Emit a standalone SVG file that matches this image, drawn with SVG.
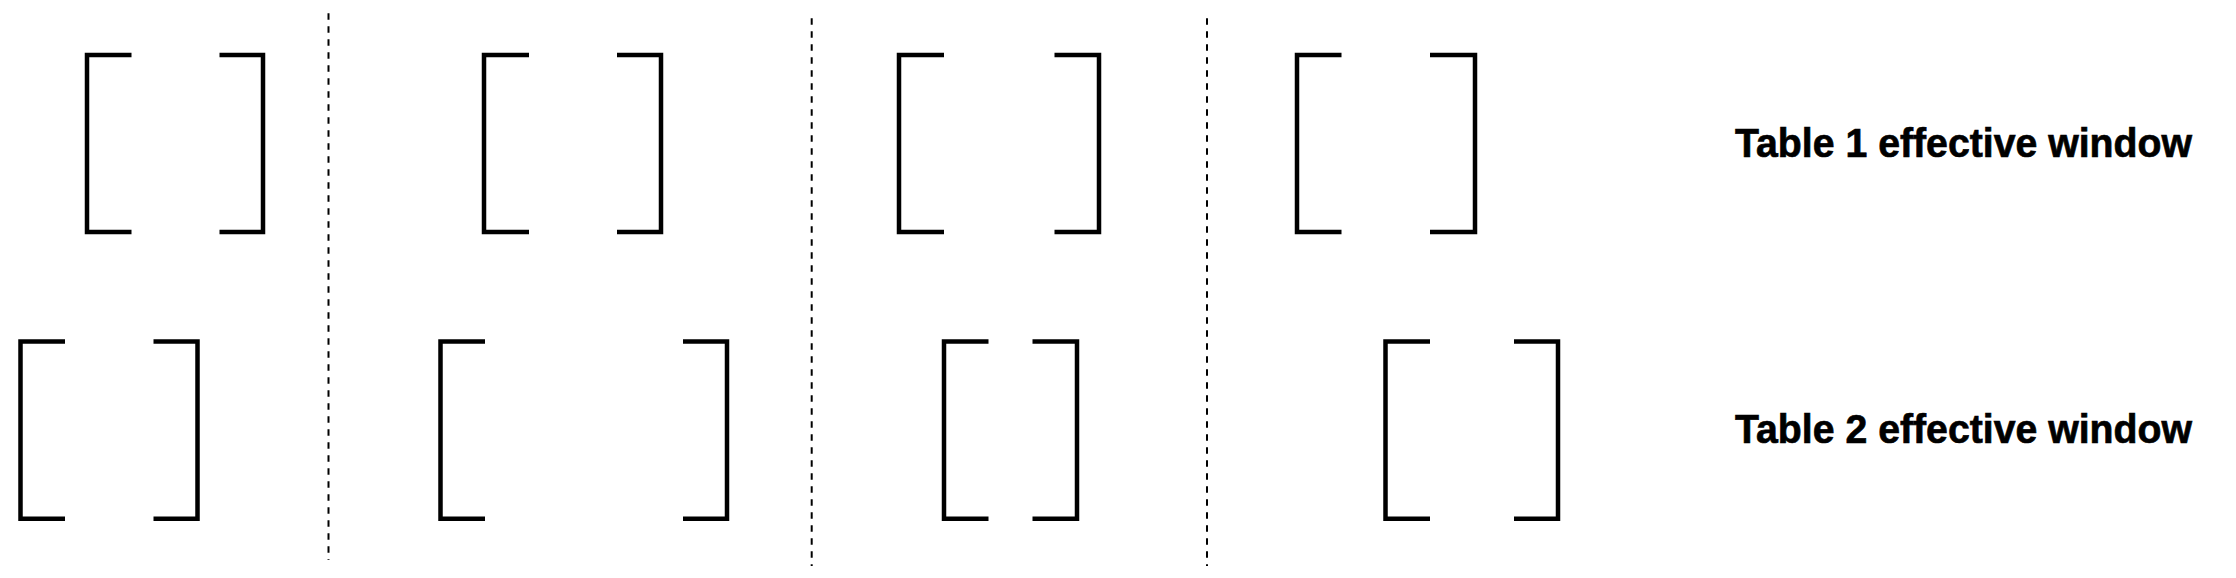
<svg xmlns="http://www.w3.org/2000/svg" width="2236" height="578" viewBox="0 0 2236 578">
<style>
.br{fill:none;stroke:#000;stroke-width:4.5;stroke-linecap:butt;stroke-linejoin:miter}
.dv{fill:none;stroke:#000;stroke-width:2;stroke-dasharray:6.5 6.5}
.lbl{font-family:"Liberation Sans",Arial,Helvetica,sans-serif;font-weight:bold;font-size:41.5px;fill:#000;stroke:#000;stroke-width:0.7}
</style>
<rect width="2236" height="578" fill="#fff"/>
<g id="dividers">
<line class="dv" x1="328.5" y1="13.3" x2="328.5" y2="560"/>
<line class="dv" x1="811.7" y1="18.3" x2="811.7" y2="566"/>
<line class="dv" x1="1207" y1="18.3" x2="1207" y2="566"/>
</g>
<g id="t1w1"><path class="br" d="M131.5,55 H87 V232 H131.5"/><path class="br" d="M219.5,55 H263 V232 H219.5"/></g>
<g id="t1w2"><path class="br" d="M529,55 H484 V232 H529"/><path class="br" d="M617,55 H661 V232 H617"/></g>
<g id="t1w3"><path class="br" d="M944,55 H899 V232 H944"/><path class="br" d="M1054.5,55 H1099 V232 H1054.5"/></g>
<g id="t1w4"><path class="br" d="M1341.5,55 H1297 V232 H1341.5"/><path class="br" d="M1430,55 H1475 V232 H1430"/></g>
<g id="t2w1"><path class="br" d="M65,341.6 H20.5 V518.7 H65"/><path class="br" d="M153.5,341.6 H197.5 V518.7 H153.5"/></g>
<g id="t2w2"><path class="br" d="M485,341.6 H440.5 V518.7 H485"/><path class="br" d="M683,341.6 H727 V518.7 H683"/></g>
<g id="t2w3"><path class="br" d="M988.5,341.6 H944 V518.7 H988.5"/><path class="br" d="M1032.5,341.6 H1077 V518.7 H1032.5"/></g>
<g id="t2w4"><path class="br" d="M1430,341.6 H1385.5 V518.7 H1430"/><path class="br" d="M1514,341.6 H1558 V518.7 H1514"/></g>
<g id="label1"><text class="lbl" x="1735" y="156.7" textLength="457" lengthAdjust="spacingAndGlyphs">Table 1 effective window</text></g>
<g id="label2"><text class="lbl" x="1735" y="442.7" textLength="457" lengthAdjust="spacingAndGlyphs">Table 2 effective window</text></g>
</svg>
